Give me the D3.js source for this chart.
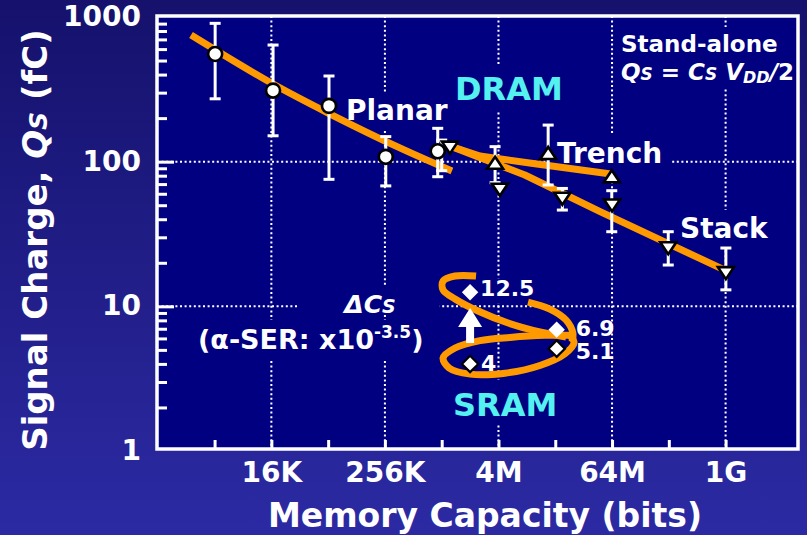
<!DOCTYPE html>
<html>
<head>
<meta charset="utf-8">
<script src="https://cdn.jsdelivr.net/npm/d3@7"></script>
<style>
  html, body { margin: 0; padding: 0; background: #1b1878; }
  svg { display: block; font-family: "DejaVu Sans", Verdana, sans-serif; font-weight: bold; }
</style>
</head>
<body>
<svg id="chart" width="807" height="535"></svg>
<script>
// Memory capacity is given as log2(bits); signal charge in fC.
const xMajorExps   = [14, 18, 22, 26, 30];
const xMajorLabels = ["16K", "256K", "4M", "64M", "1G"];
const xTickExps    = [12, 14, 16, 18, 20, 22, 24, 26, 28, 30];
const yMajorValues = [1, 10, 100, 1000];
const yMajorLabels = ["1", "10", "100", "1000"];
const yGridValues  = [10, 100];

// Planar DRAM cells (circles)
const planarExp = [12.02, 14.06, 16.03, 18.03, 19.86];
const planarQs  = [555, 310, 243, 108, 118];

// Trench DRAM cells (up triangles)
const trenchExp = [21.88, 23.75, 25.99];
const trenchQs  = [97.4, 114, 78.7];

// Stacked-capacitor DRAM cells (down triangles)
const stackExp = [20.29, 22.05, 24.25, 26.0, 27.98, 30.01];
const stackQs  = [126, 64.4, 55.8, 50.2, 25.4, 17.1];

// Spread of reported charge per generation
const errExp  = [12.02, 14.06, 16.03, 18.03, 19.86, 20.0, 21.88, 23.75, 24.25, 25.99, 27.98, 30.01];
const errLow  = [272, 151, 75.5, 68, 78.7, 86.6, 71.6, 69, 46.3, 32.8, 19.3, 13];
const errHigh = [904, 640, 391, 149, 170, 141, 127, 179, 65.3, 63, 32.8, 25.3];

// Trend lines
const planarTrendExp = [11.17, 14.06, 16.07, 18.43, 20.36];
const planarTrendQs  = [751, 344, 213.5, 126.9, 86.2];
const trenchTrendExp = [20.29, 21.35, 23.22, 25.96];
const trenchTrendQs  = [128.3, 109.4, 97.1, 82.2];
const stackTrendExp  = [20.29, 22.93, 25.58, 30.05];
const stackTrendQs   = [128.3, 80.9, 45.1, 17.5];

// SRAM equivalent charge (diamonds)
const sramExp    = [21, 21, 24.05, 24.05];
const sramQs     = [12.5, 4, 6.9, 5.1];
const sramLabels = ["12.5", "4", "6.9", "5.1"];
const sramSolid  = [true, false, true, false];

// Hand-drawn SRAM loop
const loopTopExp   = [21.21, 20.47, 20.05, 20.05, 20.47, 21.28, 22.34, 23.46, 24.38];
const loopTopQs    = [16.2, 16.2, 14.96, 12.97, 11.24, 9.28, 7.67, 6.65, 6.14];
const loopArcExp   = [23.04, 23.81, 24.38, 24.62, 24.59];
const loopArcQs    = [10.71, 9.58, 8.04, 6.54, 5.67];
const loopLowExp   = [24.52, 23.64, 22.41, 21.35, 20.47, 20.05, 20.26, 21.00, 22.23, 23.46, 24.34, 24.66, 24.52];
const loopLowQs    = [6.3, 6.3, 6.1, 5.8, 5.15, 4.4, 3.75, 3.4, 3.45, 3.9, 4.7, 5.58, 6.3];

// Alpha-SER compensation arrow (from / to charge at 2M)
const arrowExp = 21;
const arrowQs  = [5.58, 9.74];

const W = 807, H = 535;
const frame = { left: 157, right: 798, top: 16, bottom: 449 };
const ORANGE = "#ff9900", NAVY = "#000080", CYAN = "#55f0f0";

const svg = d3.select("#chart");
const defs = svg.append("defs");
const grad = defs.append("linearGradient").attr("id", "bg")
  .attr("x1", 0).attr("y1", 0).attr("x2", 0).attr("y2", 1);
grad.append("stop").attr("offset", "0%").attr("stop-color", "#15116c");
grad.append("stop").attr("offset", "100%").attr("stop-color", "#2c2aa3");
svg.append("rect").attr("width", W).attr("height", H).attr("fill", "url(#bg)");

const x = d3.scaleLog().base(2).domain([2 ** 10, 2 ** 32.55]).range([157.8, 798]);
const y = d3.scaleLog().domain([1, 1000]).range([451, 17]);
const X = e => x(2 ** e);

// plot area
svg.append("rect")
  .attr("x", frame.left).attr("y", frame.top)
  .attr("width", frame.right - frame.left).attr("height", frame.bottom - frame.top)
  .attr("fill", NAVY);

// dotted grid
const gridG = svg.append("g").attr("stroke", "#fff").attr("stroke-width", 2).attr("stroke-dasharray", "2,2.6");
gridG.selectAll("line.v").data(xMajorExps).join("line").attr("class", "v")
  .attr("x1", d => X(d)).attr("x2", d => X(d))
  .attr("y1", frame.top).attr("y2", frame.bottom);
gridG.selectAll("line.h").data(yGridValues).join("line").attr("class", "h")
  .attr("x1", frame.left).attr("x2", frame.right)
  .attr("y1", d => y(d)).attr("y2", d => y(d));

const boxG = svg.append("g");
const lineG = svg.append("g");
const errG = svg.append("g");
const markG = svg.append("g");
const axisG = svg.append("g");
const textG = svg.append("g");

// trend lines
const trend = d3.line().x(d => X(d[0])).y(d => y(d[1]));
function drawTrend(exps, qs, curve) {
  lineG.append("path")
    .datum(exps.map((e, i) => [e, qs[i]]))
    .attr("d", trend.curve(curve))
    .attr("fill", "none").attr("stroke", ORANGE)
    .attr("stroke-width", 7).attr("stroke-linecap", "butt").attr("stroke-linejoin", "round");
}
drawTrend(planarTrendExp, planarTrendQs, d3.curveCatmullRom);
drawTrend(trenchTrendExp, trenchTrendQs, d3.curveLinear);
drawTrend(stackTrendExp, stackTrendQs, d3.curveLinear);
drawTrend(loopTopExp, loopTopQs, d3.curveCatmullRom);
drawTrend(loopArcExp, loopArcQs, d3.curveCatmullRom);
drawTrend(loopLowExp, loopLowQs, d3.curveCatmullRom);

// error bars
const errData = errExp.map((e, i) => ({ e, lo: errLow[i], hi: errHigh[i] }));
const eb = errG.selectAll("g").data(errData).join("g")
  .attr("stroke", "#fff").attr("stroke-width", 3);
eb.append("line").attr("x1", d => X(d.e)).attr("x2", d => X(d.e))
  .attr("y1", d => y(d.lo)).attr("y2", d => y(d.hi));
eb.append("line").attr("x1", d => X(d.e) - 5.5).attr("x2", d => X(d.e) + 5.5)
  .attr("y1", d => y(d.lo)).attr("y2", d => y(d.lo));
eb.append("line").attr("x1", d => X(d.e) - 5.5).attr("x2", d => X(d.e) + 5.5)
  .attr("y1", d => y(d.hi)).attr("y2", d => y(d.hi));

// markers
markG.selectAll("circle").data(planarExp.map((e, i) => [e, planarQs[i]])).join("circle")
  .attr("cx", d => X(d[0])).attr("cy", d => y(d[1])).attr("r", 7)
  .attr("fill", "#fff").attr("stroke", "#000").attr("stroke-width", 2.6);

const triUp = "M0,-6.5L8,5.5L-8,5.5Z";
const triDown = "M0,6.5L8,-5.5L-8,-5.5Z";
markG.selectAll("path.up").data(trenchExp.map((e, i) => [e, trenchQs[i]])).join("path").attr("class", "up")
  .attr("d", triUp).attr("transform", d => `translate(${X(d[0])},${y(d[1])})`)
  .attr("fill", "#fff").attr("stroke", "#000").attr("stroke-width", 2.6).attr("stroke-linejoin", "miter");
markG.selectAll("path.down").data(stackExp.map((e, i) => [e, stackQs[i]])).join("path").attr("class", "down")
  .attr("d", triDown).attr("transform", d => `translate(${X(d[0])},${y(d[1])})`)
  .attr("fill", "#fff").attr("stroke", "#000").attr("stroke-width", 2.6).attr("stroke-linejoin", "miter");

const diamond = d3.symbol().type(d3.symbolSquare).size(135)();
const sramData = sramExp.map((e, i) => ({ e, q: sramQs[i], label: sramLabels[i], solid: sramSolid[i] }));
markG.selectAll("path.sram").data(sramData).join("path").attr("class", "sram")
  .attr("d", diamond)
  .attr("transform", d => `translate(${X(d.e)},${y(d.q)}) rotate(45)`)
  .attr("fill", "#fff").attr("stroke", d => d.solid ? "none" : "#000").attr("stroke-width", 2.2);

// upward arrow
{
  const ax = X(arrowExp), yb = y(arrowQs[0]), yt = y(arrowQs[1]);
  const head = 19, hw = 12, sw = 4;
  markG.append("path")
    .attr("d", `M${ax - sw},${yb}L${ax - sw},${yt + head}L${ax - hw},${yt + head}L${ax},${yt}L${ax + hw},${yt + head}L${ax + sw},${yt + head}L${ax + sw},${yb}Z`)
    .attr("fill", "#fff");
}

// axes ticks (inside the frame)
const yMinor = [];
for (let dec = 1; dec < 1000; dec *= 10) for (let k = 2; k <= 9; k++) yMinor.push(k * dec);
const yMinorAxis = axisG.append("g").attr("transform", `translate(${frame.left},0)`)
  .call(d3.axisRight(y).tickValues(yMinor).tickSize(10).tickFormat(""));
const yMajorAxis = axisG.append("g").attr("transform", `translate(${frame.left},0)`)
  .call(d3.axisRight(y).tickValues([10, 100]).tickSize(17).tickFormat(""));
const xTickAxis = axisG.append("g").attr("transform", `translate(0,${frame.bottom})`)
  .call(d3.axisTop(x).tickValues(xTickExps.map(e => 2 ** e)).tickSize(9).tickFormat(""));
[yMinorAxis, yMajorAxis, xTickAxis].forEach(g => {
  g.select(".domain").remove();
  g.selectAll(".tick line").attr("stroke", "#fff").attr("stroke-width", 3);
});

// frame
axisG.append("rect")
  .attr("x", frame.left).attr("y", frame.top)
  .attr("width", frame.right - frame.left).attr("height", frame.bottom - frame.top)
  .attr("fill", "none").attr("stroke", "#fff").attr("stroke-width", 3.5);

// tick labels
const yLab = axisG.append("g").attr("transform", `translate(${frame.left},0)`)
  .call(d3.axisLeft(y).tickValues(yMajorValues).tickSize(0).tickPadding(16)
    .tickFormat((d, i) => yMajorLabels[i]));
yLab.select(".domain").remove();
yLab.selectAll("text").attr("fill", "#fff").attr("font-size", 28)
  .attr("font-family", "DejaVu Sans").attr("font-weight", "bold").attr("dy", "0.3em");

const xLab = axisG.append("g").attr("transform", `translate(0,${frame.bottom})`)
  .call(d3.axisBottom(x).tickValues(xMajorExps.map(e => 2 ** e)).tickSize(0).tickPadding(13)
    .tickFormat((d, i) => xMajorLabels[i]));
xLab.select(".domain").remove();
xLab.selectAll("text").attr("fill", "#fff").attr("font-size", 28)
  .attr("font-family", "DejaVu Sans").attr("font-weight", "bold");

// axis titles
textG.append("text").attr("x", 485).attr("y", 527).attr("text-anchor", "middle")
  .attr("font-size", 33).attr("fill", "#fff").text("Memory Capacity (bits)");
{
  const t = textG.append("text").attr("transform", "translate(47,240) rotate(-90)")
    .attr("text-anchor", "middle").attr("font-size", 34).attr("fill", "#fff");
  t.append("tspan").text("Signal Charge, ");
  t.append("tspan").attr("font-style", "italic").text("Q");
  t.append("tspan").attr("font-style", "italic").attr("font-size", 25).text("S");
  t.append("tspan").text(" (fC)");
}

// annotations, each with a plot-coloured box that masks the grid
function boxed(sel, padX, padTop, padBottom) {
  const b = sel.node().getBBox();
  boxG.append("rect")
    .attr("x", b.x - padX).attr("y", b.y - padTop)
    .attr("width", b.width + 2 * padX).attr("height", b.height + padTop + padBottom)
    .attr("fill", NAVY);
  return sel;
}
function note(txt, px, py, size, color) {
  return textG.append("text").attr("x", px).attr("y", py)
    .attr("font-size", size).attr("fill", color || "#fff").text(txt);
}
boxed(note("Planar", 346, 120, 28), 8, 2, 2);
boxed(note("DRAM", 455, 100, 32, CYAN), 8, 4, 2);
boxed(note("Trench", 557, 163, 28), 8, 2, 0);
boxed(note("Stack", 680, 238, 28), 8, 2, 2);
boxed(note("SRAM", 453, 416, 32, CYAN), 8, 6, 0);

{
  const g = textG.append("g");
  g.append("text").attr("x", 621).attr("y", 52).attr("font-size", 23).attr("fill", "#fff").text("Stand-alone");
  const f = g.append("text").attr("x", 621).attr("y", 80).attr("font-size", 23).attr("fill", "#fff");
  f.append("tspan").attr("font-style", "italic").text("Q");
  f.append("tspan").attr("font-style", "italic").attr("font-size", 17).text("S");
  f.append("tspan").text(" = ");
  f.append("tspan").attr("font-style", "italic").text("C");
  f.append("tspan").attr("font-style", "italic").attr("font-size", 17).text("S");
  f.append("tspan").text(" ");
  f.append("tspan").attr("font-style", "italic").text("V");
  f.append("tspan").attr("font-style", "italic").attr("font-size", 16).attr("dy", 3).text("DD");
  f.append("tspan").attr("font-style", "italic").attr("dy", -3).text("/");
  f.append("tspan").text("2");
  boxed(g, 5, 4, 0);
}

{
  const d = textG.append("text").attr("x", 370).attr("y", 313).attr("text-anchor", "middle")
    .attr("font-size", 25).attr("fill", "#fff");
  d.append("tspan").attr("font-style", "italic").text("ΔC");
  d.append("tspan").attr("font-style", "italic").attr("font-size", 19).text("S");
  boxed(d, 44, 4, -4);
  const s = textG.append("text").attr("x", 198).attr("y", 349).attr("font-size", 27).attr("fill", "#fff");
  s.append("tspan").text("(α-SER: x10");
  s.append("tspan").attr("font-size", 17).attr("dy", -11).text("-3.5");
  s.append("tspan").attr("dy", 11).text(")");
  boxed(s, 8, 2, 4);
}

// SRAM value labels
const sramOffsets = { "12.5": [10, 4], "4": [11, 7], "6.9": [19, 6], "5.1": [19, 10] };
sramData.forEach(d => {
  const o = sramOffsets[d.label];
  const t = textG.append("text").attr("x", X(d.e) + o[0]).attr("y", y(d.q) + o[1])
    .attr("font-size", 22).attr("fill", "#fff").text(d.label);
  if (d.label === "12.5") boxed(t, 2, -2, 2);
});
</script>
</body>
</html>
